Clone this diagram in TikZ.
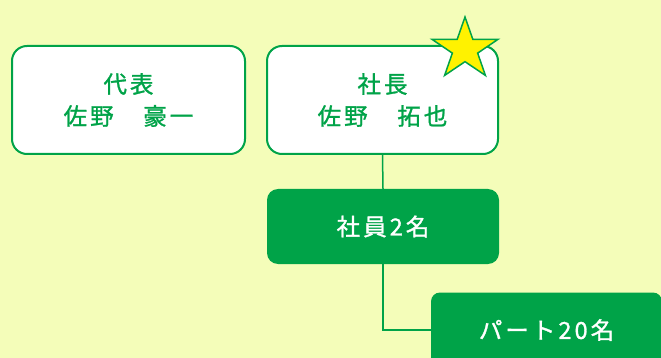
\documentclass[tikz,border=0pt]{standalone}
\usepackage{fontspec}
\newfontfamily\jpfont[LetterSpace=13, BoldFont=Noto Sans CJK JP, BoldFeatures={FakeBold=1.2}]{Noto Sans CJK JP}
\definecolor{bgc}{RGB}{244,253,185}
\definecolor{grn}{RGB}{0,163,72}
\begin{document}
\begin{tikzpicture}[x=1pt,y=-1pt,
  outbox/.style={draw=grn, line width=2pt, fill=white, rounded corners=15pt,
    minimum width=233pt, minimum height=108pt, inner sep=0pt, align=center,
    text=grn, font=\jpfont\bfseries\fontsize{23.5}{32}\selectfont},
  solidbox/.style={fill=grn, rounded corners=11pt,
    minimum width=232pt, minimum height=75pt, inner sep=0pt, align=center,
    text=white, font=\jpfont\bfseries\fontsize{23.5}{32}\selectfont},
  conn/.style={draw=grn, line width=1.5pt}]
\fill[bgc] (0,0) rectangle (661,358);
\useasboundingbox (0,0) rectangle (661,358);
\clip (0,0) rectangle (661,358);
\node[outbox] (b1) at (128.5,100) {代表\\佐野　豪一};
\node[outbox, minimum width=231pt] (b2) at (382.5,100) {社長\\佐野　拓也};
\node[solidbox] (b3) at (383,226.5) {社員2名};
\node[solidbox, minimum width=231pt, rounded corners=9pt] (b4) at (546.5,330) {パート20名};
\draw[conn] (b2.south) -- (b3.north);
\draw[conn] (b3.south) |- (b4.west);
\begin{scope}[shift={(465,49.3)}, yscale=-0.93]
\draw[draw=grn, line width=1.5pt, fill=yellow, line join=miter]
  (90:34.7) -- (126:13.3) -- (162:34.7) -- (198:13.3) -- (234:34.7) --
  (270:13.3) -- (306:34.7) -- (342:13.3) -- (18:34.7) -- (54:13.3) -- cycle;
\end{scope}
\end{tikzpicture}
\end{document}
